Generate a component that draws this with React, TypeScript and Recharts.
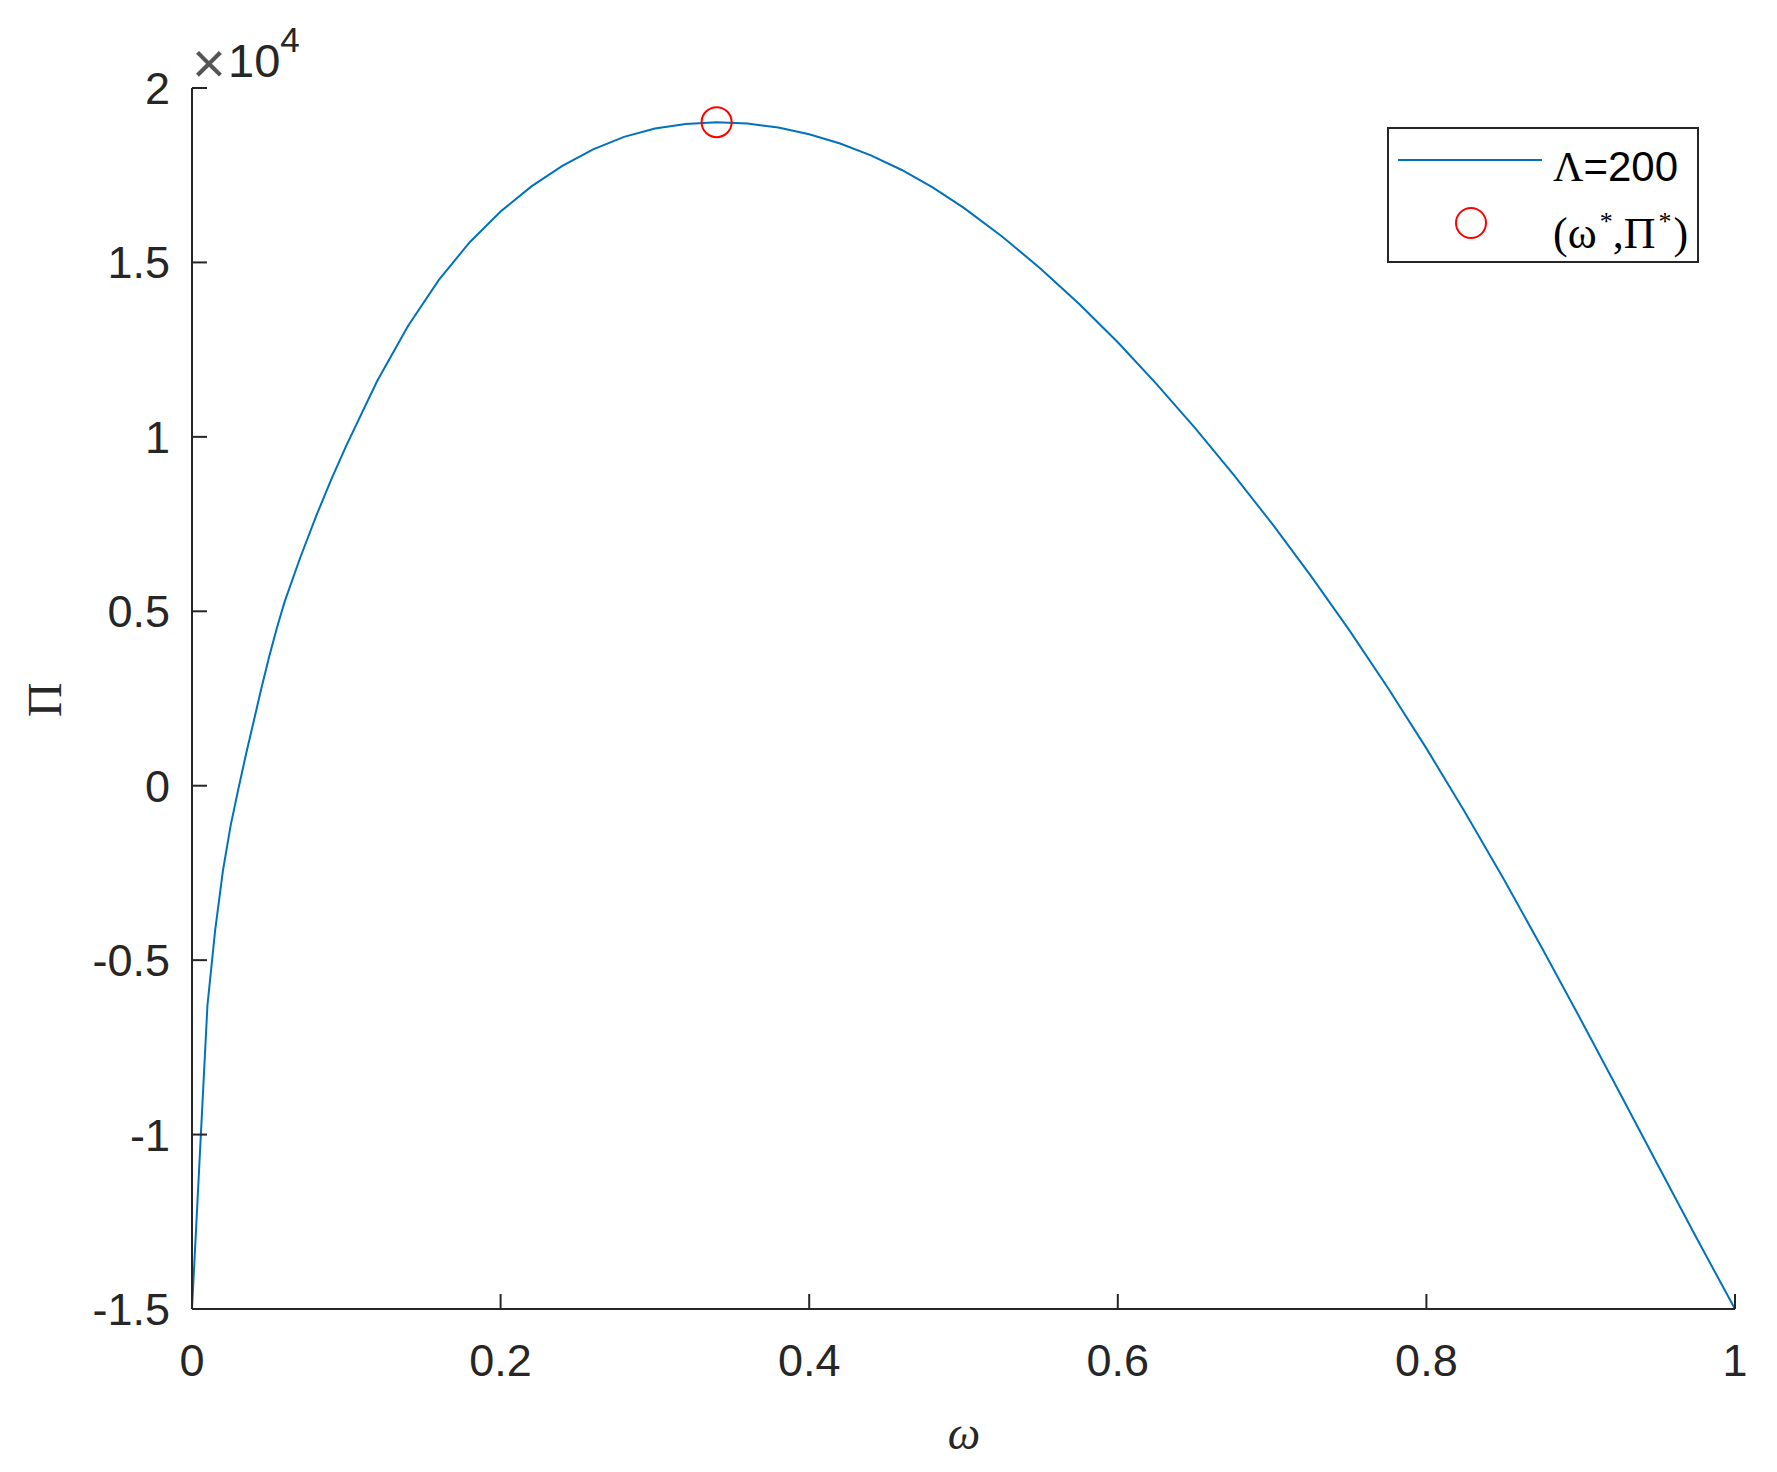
import { ComposedChart, Line, Scatter, XAxis, YAxis, Legend } from 'recharts';

// omega on the x axis, profit Pi on the y axis (axis labels shown in units of 1e4)
const omega = [
  0, 0.01, 0.015, 0.02, 0.025, 0.03, 0.035, 0.04, 0.045, 0.05, 0.055, 0.06, 0.07, 0.08, 0.09, 0.1,
  0.12, 0.14, 0.16, 0.18, 0.2, 0.22, 0.24, 0.26, 0.28, 0.3, 0.32, 0.34, 0.36, 0.38,
  0.4, 0.42, 0.44, 0.46, 0.48, 0.5, 0.525, 0.55, 0.575, 0.6, 0.625, 0.65, 0.675,
  0.7, 0.725, 0.75, 0.775, 0.8, 0.825, 0.85, 0.875, 0.9, 0.925, 0.95, 0.975, 1,
];
const profit = [
  -15000, -6300, -4150, -2450, -1150, -100, 900, 1850, 2800, 3700, 4520, 5270, 6520, 7680, 8750, 9750,
  11600, 13180, 14500, 15580, 16460, 17180, 17770, 18240, 18600, 18840, 18970, 19020, 18980, 18865,
  18675, 18410, 18070, 17650, 17150, 16570, 15745, 14820, 13810, 12710, 11520, 10260, 8920,
  7510, 6020, 4460, 2810, 1070, -760, -2670, -4660, -6700, -8780, -10870, -12960, -15000,
];
const optOmega = [0.34];
const optProfit = [19020];

const xTicks = [0, 0.2, 0.4, 0.6, 0.8, 1];
const yTicks = [-15000, -10000, -5000, 0, 5000, 10000, 15000, 20000];

const curve = omega.map((w, i) => ({ w, pi: profit[i] }));
const optimum = optOmega.map((w, i) => ({ w, pi: optProfit[i] }));

const AXIS = '#262626';
const SANS = '"Liberation Sans", Arial, Helvetica, sans-serif';
const SERIF = '"Liberation Serif", "Times New Roman", serif';

const XTick = (props: any) => {
  const { x, y, payload } = props;
  return (
    <g>
      <line x1={x} x2={x} y1={y} y2={y - 15} stroke={AXIS} strokeWidth={2} />
      <text x={x} y={y + 67} textAnchor="middle" fill={AXIS} fontFamily={SANS} fontSize={45}>
        {String(payload.value)}
      </text>
    </g>
  );
};

const YTick = (props: any) => {
  const { x, y, payload } = props;
  return (
    <g>
      <line x1={x} x2={x + 15} y1={y} y2={y} stroke={AXIS} strokeWidth={2} />
      <text x={x - 22} y={y + 16} textAnchor="end" fill={AXIS} fontFamily={SANS} fontSize={45}>
        {String(payload.value / 10000)}
      </text>
    </g>
  );
};

// y label (rotated Pi) plus the x10^4 exponent above the axis
const YLabel = () => (
  <g fill={AXIS} fontFamily={SANS}>
    <text transform="translate(61,700) rotate(-90)" textAnchor="middle" fontFamily={SERIF} fontSize={48}>
      Π
    </text>
    <text x={192} y={83} fontSize={58} fill="#555">×</text>
    <text x={228} y={77} fontSize={47}>
      10
      <tspan dy={-25} fontSize={35}>4</tspan>
    </text>
  </g>
);

const XLabel = () => (
  <text x={964} y={1449} textAnchor="middle" fill={AXIS} fontFamily={SERIF} fontStyle="italic" fontSize={46}>
    ω
  </text>
);

const renderLegend = () => (
  <div style={{ width: 308, height: 132, border: `2px solid ${AXIS}`, background: '#fff' }}>
    <svg width={308} height={132} style={{ display: 'block' }}>
      <line x1={9} x2={153} y1={31} y2={31} stroke="#0072BD" strokeWidth={2} />
      <circle cx={82} cy={94} r={15} fill="none" stroke="#FF0000" strokeWidth={2} />
      <text x={164} y={52} fill="#000" fontSize={42}>
        <tspan fontFamily={SERIF}>Λ</tspan>
        <tspan fontFamily={SANS}>=200</tspan>
      </text>
      <text x={164} y={119} fill="#000" fontFamily={SERIF} fontSize={44}>
        (ω<tspan dx={3} dy={-18} fontSize={26}>*</tspan>
        <tspan dy={18}>,Π</tspan>
        <tspan dx={3} dy={-18} fontSize={26}>*</tspan>
        <tspan dx={2} dy={18}>)</tspan>
      </text>
    </svg>
  </div>
);

export default function App() {
  return (
    <div style={{ position: 'absolute', left: 0, top: 0, width: 1777, height: 1472, background: '#fff' }}>
      <ComposedChart width={1777} height={1472} margin={{ top: 88, right: 42, bottom: 0, left: 0 }}>
        <XAxis
          dataKey="w"
          type="number"
          domain={[0, 1]}
          ticks={xTicks}
          interval={0}
          height={163}
          tickSize={0}
          tickMargin={0}
          tick={XTick}
          axisLine={{ stroke: AXIS, strokeWidth: 2 }}
          label={XLabel}
        />
        <YAxis
          type="number"
          domain={[-15000, 20000]}
          ticks={yTicks}
          interval={0}
          width={192}
          tickSize={0}
          tickMargin={0}
          tick={YTick}
          axisLine={{ stroke: AXIS, strokeWidth: 2 }}
          label={YLabel}
        />
        <Line
          data={curve}
          dataKey="pi"
          type="linear"
          stroke="#0072BD"
          strokeWidth={2}
          dot={false}
          activeDot={false}
          isAnimationActive={false}
        />
        <Scatter
          data={optimum}
          dataKey="pi"
          isAnimationActive={false}
          shape={(p: any) => <circle cx={p.cx} cy={p.cy} r={15} fill="none" stroke="#FF0000" strokeWidth={2} />}
        />
        <Legend
          layout="horizontal"
          verticalAlign="middle"
          align="center"
          content={renderLegend}
          wrapperStyle={{ position: 'absolute', left: 1387, top: 127, width: 312, height: 136 }}
        />
      </ComposedChart>
    </div>
  );
}
